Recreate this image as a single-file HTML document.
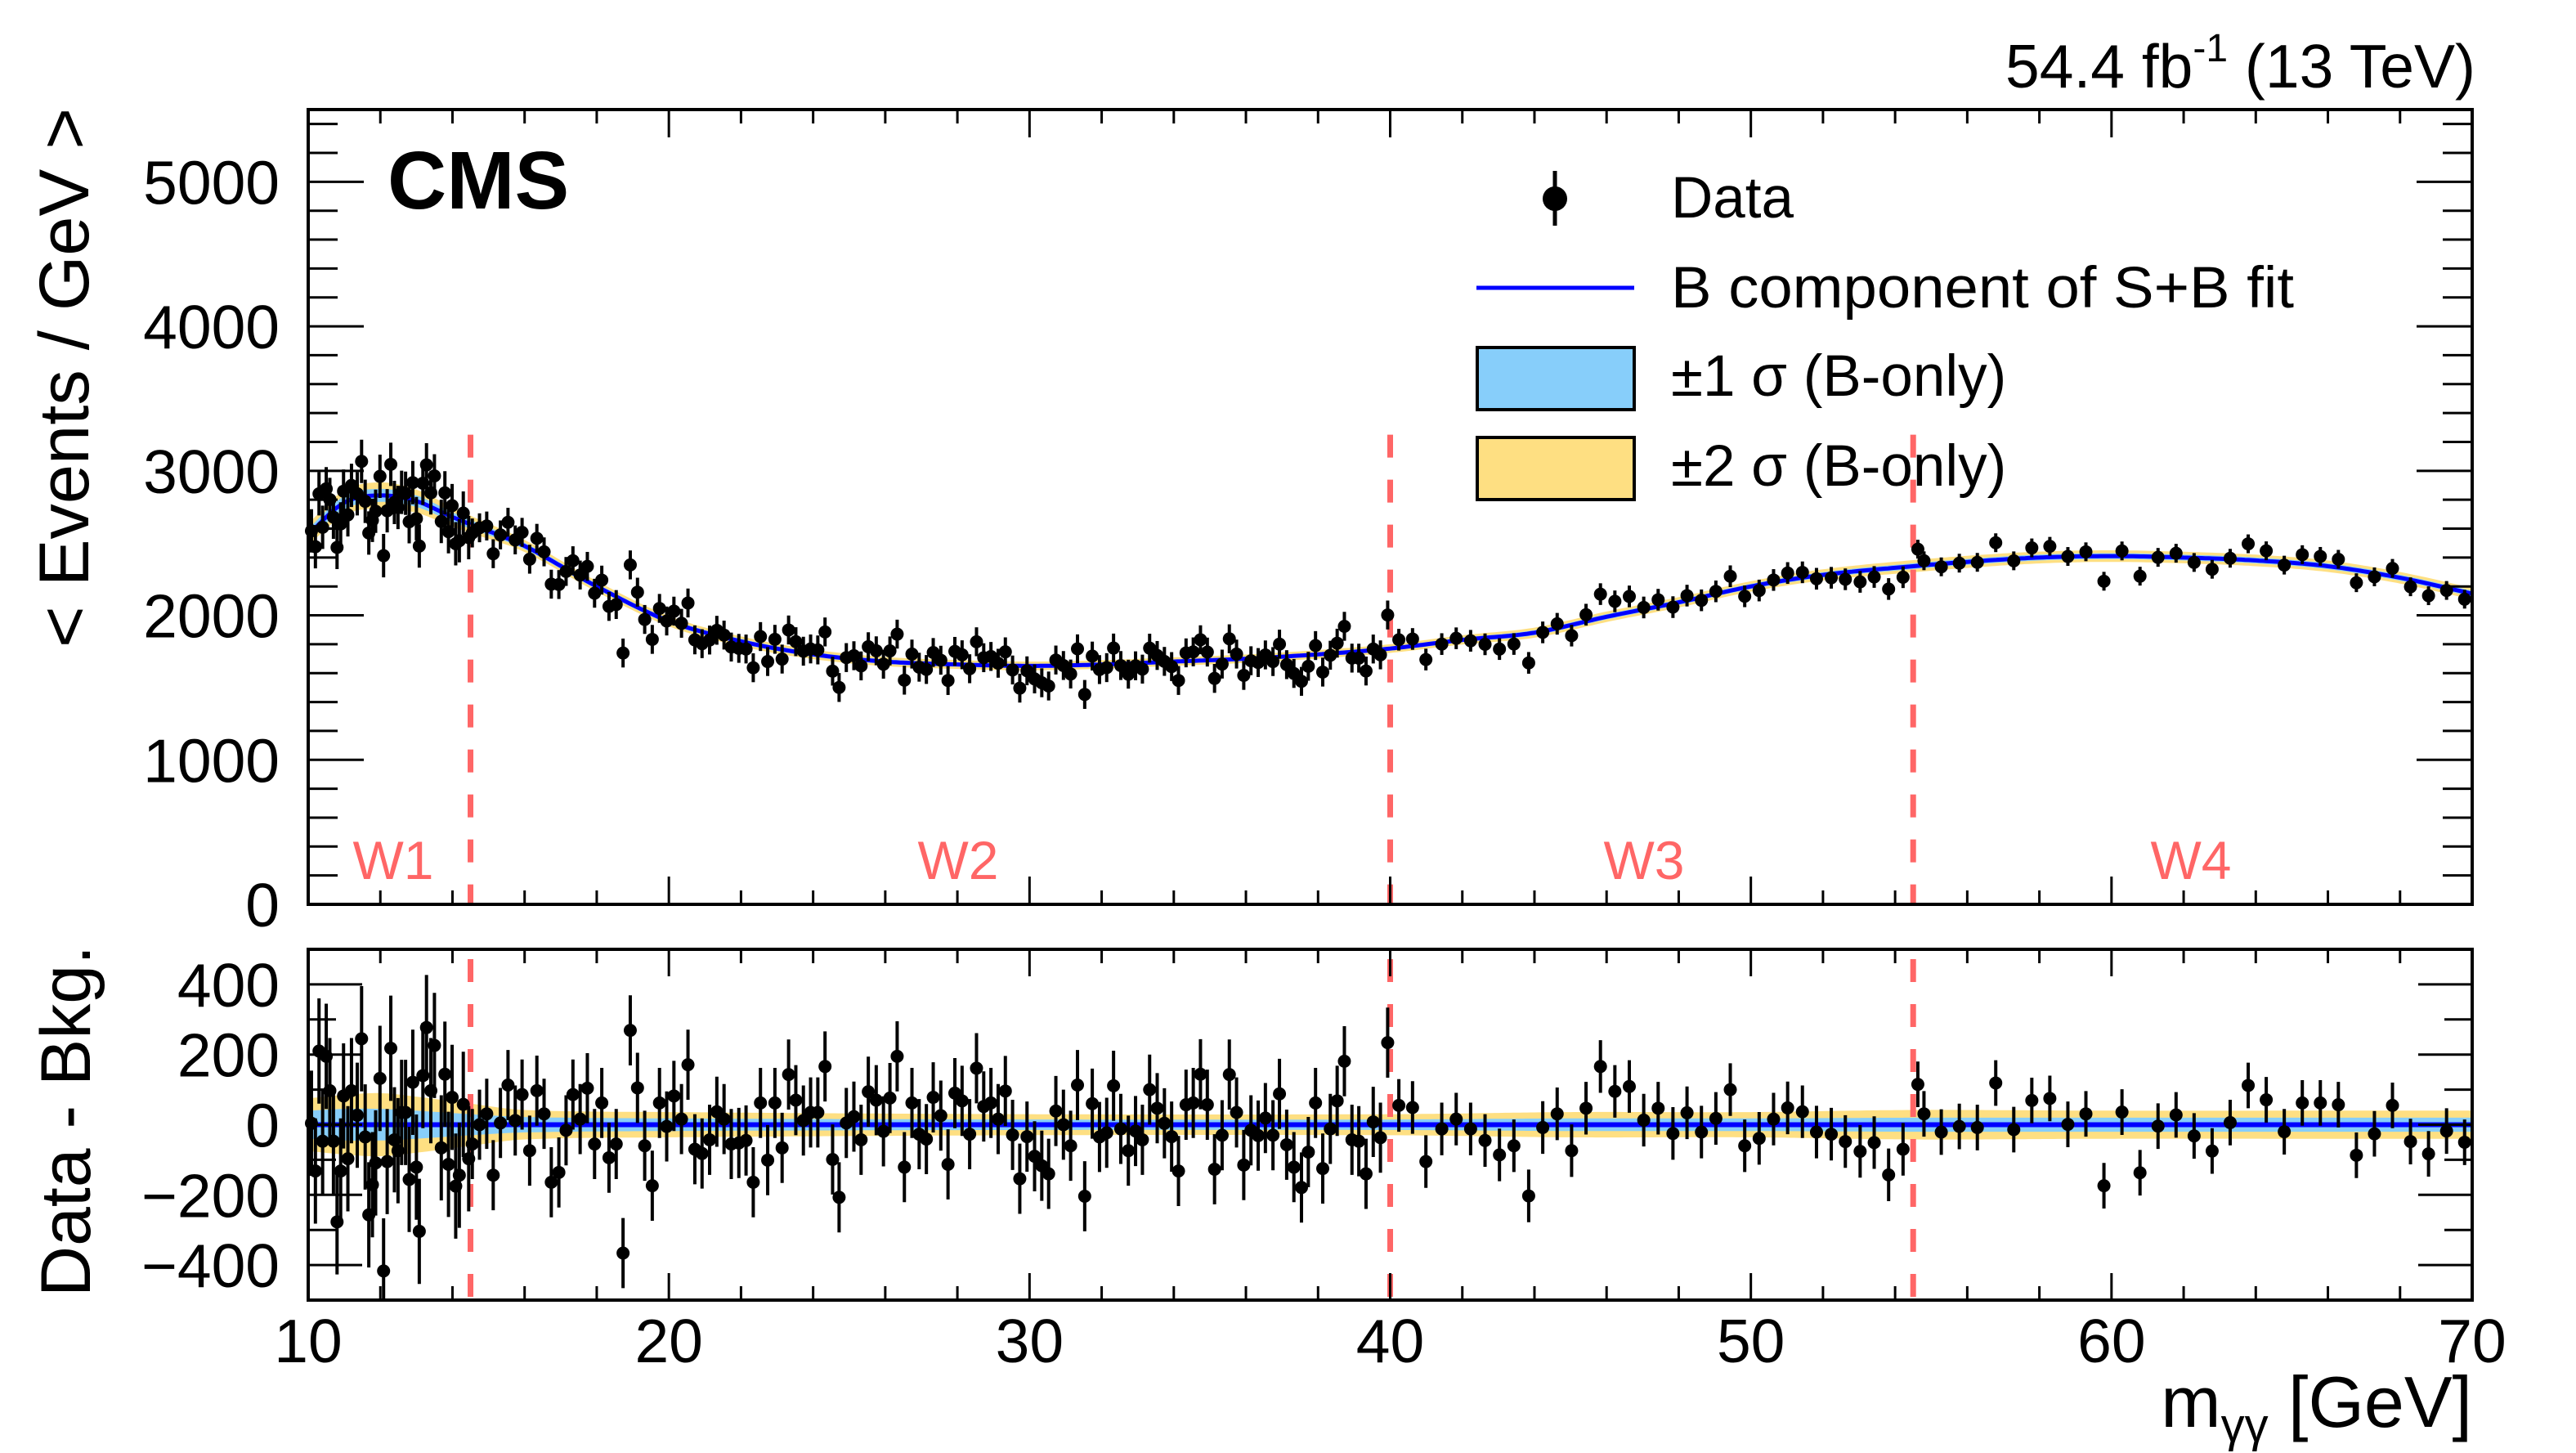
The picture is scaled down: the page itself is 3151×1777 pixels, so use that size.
<!DOCTYPE html>
<html><head><meta charset="utf-8"><title>CMS diphoton</title>
<style>
html,body{margin:0;padding:0;background:#fff;}
svg{display:block;font-family:"Liberation Sans",Arial,sans-serif;}
</style></head>
<body>
<svg id="chart" xmlns="http://www.w3.org/2000/svg" width="3151" height="1777" viewBox="0 0 3151 1777">
<rect x="0" y="0" width="3151" height="1777" fill="#fff"/>
<g id="bands"></g>
<g id="curves"></g>
<g id="dashes"></g>
<g id="points"></g>
<g id="axes"></g>
<g id="labels">
  <text x="3028" y="107" font-size="75" text-anchor="end">54.4 fb<tspan font-size="48" dy="-32">-1</tspan><tspan dy="32"> (13 TeV)</tspan></text>
  <text x="474" y="255" font-size="100" font-weight="bold">CMS</text>
  <text transform="translate(108,462) rotate(-90)" font-size="86" text-anchor="middle" textLength="660" lengthAdjust="spacingAndGlyphs">&lt; Events / GeV &gt;</text>
  <text transform="translate(110,1371) rotate(-90)" font-size="86" text-anchor="middle" textLength="430" lengthAdjust="spacingAndGlyphs">Data - Bkg.</text>
  <text x="3024" y="1745" font-size="88" text-anchor="end">m<tspan font-size="58" dy="18">γγ</tspan><tspan dy="-18"> [GeV]</tspan></text>
  <text x="481" y="1075" font-size="66" fill="#ff6666" text-anchor="middle">W1</text>
  <text x="1172" y="1075" font-size="66" fill="#ff6666" text-anchor="middle">W2</text>
  <text x="2011" y="1075" font-size="66" fill="#ff6666" text-anchor="middle">W3</text>
  <text x="2680" y="1075" font-size="66" fill="#ff6666" text-anchor="middle">W4</text>
</g>
<g id="legend">
  <g>
    <line x1="1902" y1="209" x2="1902" y2="276" stroke="#000" stroke-width="5"/>
    <circle cx="1902" cy="243" r="15" fill="#000"/>
    <text x="2044" y="266" font-size="71">Data</text>
  </g>
  <g>
    <line x1="1806" y1="352" x2="1999" y2="352" stroke="#0000ff" stroke-width="5"/>
    <text x="2044" y="376" font-size="71" textLength="762" lengthAdjust="spacingAndGlyphs">B component of S+B fit</text>
  </g>
  <g>
    <rect x="1807" y="425" width="192" height="76" fill="#87cefa" stroke="#000" stroke-width="4"/>
    <text x="2044" y="484" font-size="71">±1 σ (B-only)</text>
  </g>
  <g>
    <rect x="1807" y="535" width="192" height="76" fill="#fedf82" stroke="#000" stroke-width="4"/>
    <text x="2044" y="594" font-size="71">±2 σ (B-only)</text>
  </g>
</g>
</svg>
<script>
// ---- data ----
const bkgX = [10,11,12,13,14,14.5,16,18,20,22,24,26,28,30,32,34,36,38,40,42,44,46,48,50,52,54.5,56,58,60,62,64,66,68,70];
const bkgY = [2560,2780,2830,2790,2680,2630,2480,2200,1960,1820,1730,1680,1660,1650,1660,1680,1700,1730,1770,1830,1880,1990,2090,2200,2280,2340,2370,2400,2410,2400,2380,2340,2260,2150];
const bandX = [10,11,12,13,14.5,16,20,30,40,45,50,54.5,60,65,70];
const band1 = [40,45,45,40,30,22,18,15,15,18,18,20,20,20,20];
const band2 = [75,85,90,80,60,42,36,30,30,36,36,42,40,40,40];
const windowEdges = [10,14.5,40,54.5,70];
const windowErr = [150,100,75,65];
const massX = [10.09,10.2,10.3,10.4,10.5,10.6,10.7,10.8,10.9,10.98,11.1,11.2,11.36,11.48,11.58,11.68,11.78,11.87,11.99,12.09,12.19,12.29,12.39,12.49,12.59,12.7,12.8,12.9,13.0,13.08,13.18,13.28,13.4,13.5,13.69,13.79,13.89,13.99,14.09,14.19,14.3,14.45,
14.55,14.75,14.95,15.13,15.33,15.54,15.74,15.93,16.14,16.34,16.54,16.74,16.95,17.15,17.34,17.54,17.74,17.94,18.14,18.34,18.54,18.73,18.93,19.13,19.33,19.54,19.74,19.94,20.14,20.35,20.53,20.72,20.92,21.13,21.33,21.53,21.73,21.94,22.14,22.34,22.54,22.74,22.94,23.14,23.32,23.52,23.73,23.93,24.13,24.33,24.54,24.72,24.92,25.13,25.33,25.53,
25.75,25.95,26.13,26.33,26.53,26.74,26.94,27.14,27.33,27.54,27.74,27.93,28.13,28.34,28.53,28.73,28.93,29.13,29.33,29.53,29.73,29.93,30.14,30.34,30.53,30.73,30.94,31.14,31.33,31.53,31.74,31.94,32.14,32.33,32.53,32.74,32.94,33.13,33.33,33.54,33.74,33.94,34.13,34.34,34.54,34.74,34.93,35.13,35.34,35.54,35.74,35.94,36.14,36.34,36.54,36.75,36.93,37.13,37.33,37.54,37.73,37.93,38.13,38.34,38.53,38.73,38.94,39.13,39.33,39.53,39.73,39.93,
40.24,40.62,40.99,41.43,41.83,42.23,42.63,43.03,43.43,43.84,44.23,44.63,45.03,45.43,45.83,46.23,46.63,47.03,47.43,47.84,48.23,48.63,49.03,49.43,49.83,50.23,50.63,51.02,51.43,51.82,52.23,52.62,53.03,53.42,53.82,54.22,
54.63,54.8,55.28,55.78,56.28,56.79,57.29,57.79,58.29,58.79,59.29,59.79,60.29,60.79,61.29,61.79,62.29,62.79,63.29,63.79,64.29,64.79,65.29,65.79,66.29,66.79,67.29,67.79,68.29,68.79,69.29,69.79];
const residual = [4,-132,210,-47,195,97,-47,-277,-132,82,-97,97,27,245,-35,-257,-171,-109,132,-417,-105,218,-43,-74,35,35,-156,121,-121,-304,140,277,97,226,-66,144,-113,78,-175,-144,58,-97,
-55,0,31,-144,5,113,12,86,-74,97,31,-164,-136,-16,86,16,104,-55,62,-94,-55,-366,269,105,-60,-174,62,-5,82,16,171,-70,-82,-43,37,16,-55,-52,-45,-164,62,-101,62,-66,143,70,12,35,35,166,-99,-207,5,23,-43,94,
70,-19,76,195,-121,62,-27,-41,78,26,-113,90,68,-27,161,52,62,16,96,-29,-154,-34,-90,-117,-140,39,0,-60,113,-204,60,-35,-23,111,-12,-74,-18,-43,100,47,4,-34,-132,57,62,144,57,-127,-30,143,35,-115,-16,-31,19,-30,88,-57,-121,-179,-78,62,-125,-12,68,181,-43,-47,-140,8,-37,234,
55,49,-105,-12,16,-12,-45,-86,-60,-203,-8,31,-74,47,166,95,109,13,47,-25,34,-21,18,100,-60,-39,16,48,37,-21,-27,-48,-76,-51,-143,-70,
115,31,-21,-5,-8,119,-14,69,75,1,31,-174,36,-137,-4,28,-32,-75,6,112,71,-20,62,62,57,-87,-26,55,-48,-83,-18,-50];

// ---- axes mapping ----
const X0=377, X1=3024, TY0=134, TY1=1106, LY0=1161, LY1=1590, LZERO=1375.5;
const xs = v => X0 + (v-10)*(X1-X0)/60;
const yTop = v => TY1 - v*(TY1-TY0)/5500;
const yLow = v => LZERO - v*0.429;
const NS='http://www.w3.org/2000/svg';
function mk(tag, attrs, parent){const e=document.createElementNS(NS,tag);for(const k in attrs)e.setAttribute(k,attrs[k]);parent.appendChild(e);return e;}

function interp(xa, ya, x){
  let i=0; while(i<xa.length-2 && x>xa[i+1]) i++;
  const x0=xa[i],x1=xa[i+1],y0=ya[i],y1=ya[i+1],h=x1-x0;
  const sl=(j)=>{ if(j<=0) return (ya[1]-ya[0])/(xa[1]-xa[0]); if(j>=xa.length-1) return (ya[j]-ya[j-1])/(xa[j]-xa[j-1]); return (ya[j+1]-ya[j-1])/(xa[j+1]-xa[j-1]); };
  const m0=sl(i)*h, m1=sl(i+1)*h, t=Math.min(1,Math.max(0,(x-x0)/h));
  const t2=t*t,t3=t2*t;
  return (2*t3-3*t2+1)*y0+(t3-2*t2+t)*m0+(-2*t3+3*t2)*y1+(t3-t2)*m1;
}
const bkg = x => interp(bkgX,bkgY,x);
const winOf = x => { for(let w=0;w<4;w++) if(x<windowEdges[w+1]) return w; return 3; };

// ---- bands ----
const gB=document.getElementById('bands');
function bandPath(yf, widths, sgn){ const pts=[]; for(let x=10;x<=70.001;x+=0.1){ pts.push([xs(x), yf(x, sgn*interp(bandX,widths,x))]); } return pts; }
function drawBand(yf, widths, fill, name){
  const up=bandPath(yf,widths,1), dn=bandPath(yf,widths,-1).reverse();
  const d='M'+up.concat(dn).map(p=>p[0].toFixed(1)+','+p[1].toFixed(1)).join('L')+'Z';
  const p=mk('path',{d:d,fill:fill,stroke:'none'},gB);
  
  
}
drawBand((x,o)=>yTop(bkg(x)+o), band2, '#fedf82', 'top-band-2sigma');
drawBand((x,o)=>yTop(bkg(x)+o), band1, '#87cefa', 'top-band-1sigma');
drawBand((x,o)=>yLow(o), band2, '#fedf82', 'residual-band-2sigma');
drawBand((x,o)=>yLow(o), band1, '#87cefa', 'residual-band-1sigma');

// ---- curves ----
const gC=document.getElementById('curves');
let d=''; for(let x=10;x<=70.001;x+=0.1){ d+=(d?'L':'M')+xs(x).toFixed(1)+','+yTop(bkg(x)).toFixed(1); }
const fitLine=mk('path',{d:d,fill:'none',stroke:'#0000ff','stroke-width':5},gC);


const zeroLine=mk('line',{x1:X0,y1:yLow(0),x2:X1,y2:yLow(0),stroke:'#0000ff','stroke-width':6},gC);



// ---- window boundaries ----
const gD=document.getElementById('dashes');
[14.5,40,54.5].forEach(b=>{
  const l1=mk('line',{x1:xs(b),y1:yTop(3250),x2:xs(b),y2:TY1,stroke:'#ff6666','stroke-width':7,'stroke-dasharray':'28,27'},gD);
  
  
  const l2=mk('line',{x1:xs(b),y1:LY0+12,x2:xs(b),y2:LY1,stroke:'#ff6666','stroke-width':7,'stroke-dasharray':'28,27'},gD);
  
  
});

// ---- points ----
const gP=document.getElementById('points');
massX.forEach((x,i)=>{
  const r=residual[i], e=windowErr[winOf(x)], v=bkg(x)+r;
  const g=mk('g',{},gP);
  
  
  mk('line',{x1:xs(x),y1:yTop(v+e),x2:xs(x),y2:yTop(v-e),stroke:'#000','stroke-width':4},g);
  mk('circle',{cx:xs(x),cy:yTop(v),r:8,fill:'#000'},g);
  const g2=mk('g',{},gP);
  
  
  mk('line',{x1:xs(x),y1:Math.max(LY0,yLow(r+e)),x2:xs(x),y2:Math.min(LY1,yLow(r-e)),stroke:'#000','stroke-width':4},g2);
  mk('circle',{cx:xs(x),cy:yLow(r),r:8,fill:'#000'},g2);
});

// ---- axes ----
const gA=document.getElementById('axes');
const topTicks=[0,1000,2000,3000,4000,5000];
const lowTicks=[-400,-200,0,200,400];
const xTicks=[10,20,30,40,50,60,70];
function tick(x1,y1,x2,y2){mk('line',{x1:x1,y1:y1,x2:x2,y2:y2,stroke:'#000','stroke-width':3},gA);}
const f1=mk('rect',{x:X0,y:TY0,width:X1-X0,height:TY1-TY0,fill:'none',stroke:'#000','stroke-width':4},gA);


const f2=mk('rect',{x:X0,y:LY0,width:X1-X0,height:LY1-LY0,fill:'none',stroke:'#000','stroke-width':4},gA);


for(let v=10;v<=70;v+=2){
  const major=(v%10===0), x=xs(v);
  tick(x,TY1,x,TY1-(major?34:17)); tick(x,TY0,x,TY0+(major?34:17));
  tick(x,LY1,x,LY1-(major?33:17)); tick(x,LY0,x,LY0+(major?33:17));
}
for(let v=0;v<=5400;v+=200){
  const major=(v%1000===0), y=yTop(v);
  tick(X0,y,X0+(major?68:36),y); tick(X1,y,X1-(major?68:36),y);
}
for(let v=-500;v<=500;v+=100){
  const major=(v%200===0), y=yLow(v);
  tick(X0,y,X0+(major?66:34),y); tick(X1,y,X1-(major?66:34),y);
}
topTicks.forEach(v=>{
  const t=mk('text',{x:342,y:yTop(v)+27,'font-size':75,'text-anchor':'end'},gA);
  t.textContent=String(v);
  
  
});
lowTicks.forEach(v=>{
  const t=mk('text',{x:342,y:yLow(v)+27,'font-size':75,'text-anchor':'end'},gA);
  t.textContent=(v<0?'\u2212'+(-v):String(v));
  
  
});
xTicks.forEach(v=>{
  const t=mk('text',{x:xs(v),y:1666,'font-size':75,'text-anchor':'middle'},gA);
  t.textContent=String(v);
  
  
});
</script>
</body></html>
